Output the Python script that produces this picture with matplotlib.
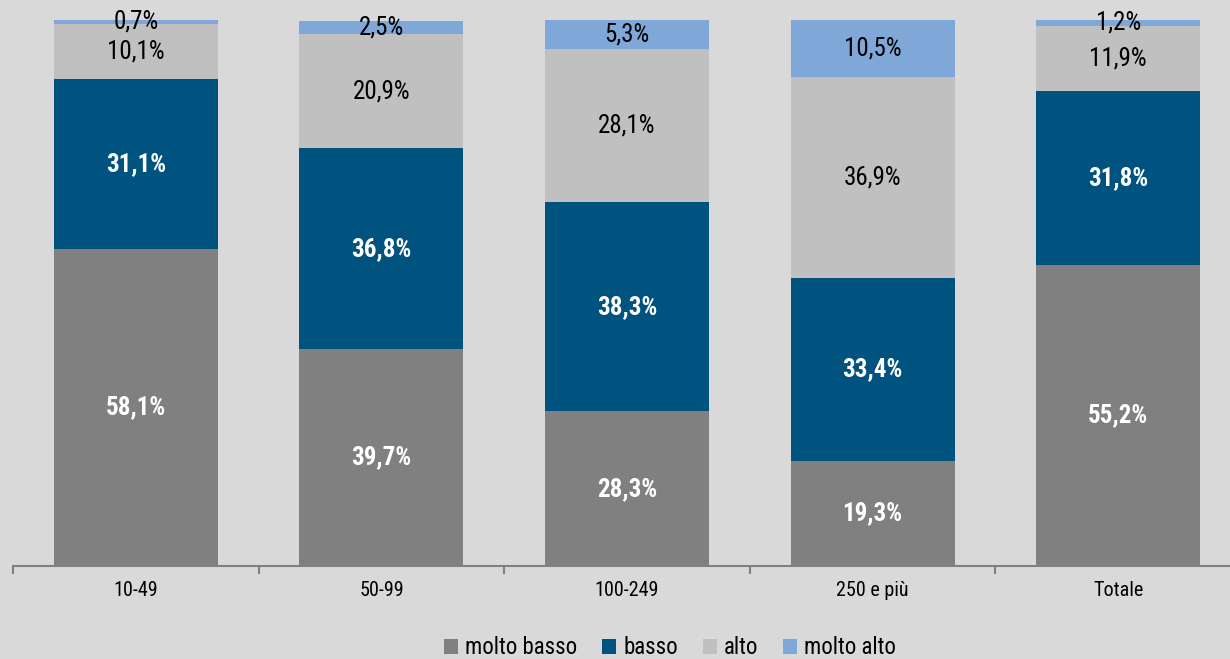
import numpy as np
import matplotlib.pyplot as plt
from matplotlib.patches import Patch

# Data
categories = ["10-49", "50-99", "100-249", "250 e più", "Totale"]
molto_basso = [58.1, 39.7, 28.3, 19.3, 55.2]
basso = [31.1, 36.8, 38.3, 33.4, 31.8]
alto = [10.1, 20.9, 28.1, 36.9, 11.9]
molto_alto = [0.7, 2.5, 5.3, 10.5, 1.2]

series = [("molto basso", molto_basso, "#808080", "white", "bold"),
          ("basso", basso, "#00527f", "white", "bold"),
          ("alto", alto, "#c0c0c0", "black", "normal"),
          ("molto alto", molto_alto, "#7fa8d9", "black", "normal")]

plt.rcParams['font.family'] = ['Roboto Condensed', 'Liberation Sans', 'DejaVu Sans']
bg = "#d9d9d9"

fig = plt.figure(figsize=(12.3, 6.59), dpi=100, facecolor=bg)
step = 245.6  # pixels per category
ax = fig.add_axes([13 / 1230, 1 - 566 / 659, 5 * step / 1230, 546 / 659])
ax.set_facecolor(bg)

x = np.arange(len(categories))
bottom = np.zeros(len(categories))
handles = []
for name, vals, color, tcolor, weight in series:
    vals = np.array(vals)
    ax.bar(x, vals, bottom=bottom, width=0.668, color=color, zorder=2)
    for xi, b, v in zip(x, bottom, vals):
        ax.text(xi, b + v / 2, f"{v:.1f}%".replace(".", ","), ha="center", va="center",
                color=tcolor, fontweight=weight, fontsize=18, zorder=3)
    bottom += vals
    handles.append(Patch(facecolor=color, label=name))

ax.set_xlim(-0.5, 4.5)
ax.set_ylim(0, 100)
ax.set_yticks([])
for s in ["top", "right", "left"]:
    ax.spines[s].set_visible(False)
ax.spines["bottom"].set_color("#808080")
ax.spines["bottom"].set_linewidth(1.5)

ax.set_xticks(x)
ax.set_xticklabels(categories, fontsize=14.5)
ax.tick_params(axis="x", which="major", length=0, pad=11)
ax.set_xticks(np.arange(-0.5, 5, 1), minor=True)
ax.tick_params(axis="x", which="minor", length=6, width=1.5, color="#808080")

fig.legend(handles=handles, loc="center", bbox_to_anchor=(670 / 1230, 1 - 648 / 659),
           ncol=4, frameon=False, fontsize=16.5, handlelength=0.6, handleheight=0.6,
           handletextpad=0.3, columnspacing=1.1)

fig.savefig("out.png", dpi=100, facecolor=bg)
